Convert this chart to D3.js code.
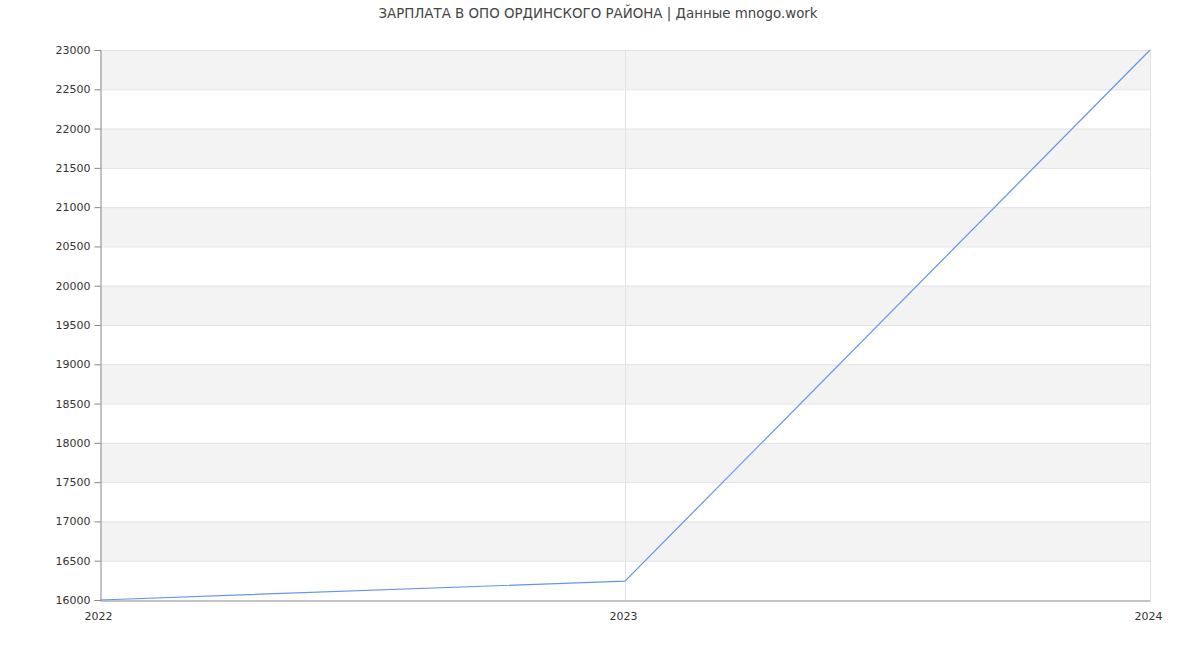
<!DOCTYPE html>
<html><head><meta charset="utf-8">
<script src="https://cdn.jsdelivr.net/npm/d3@7"></script>
<style>body{margin:0;background:#fff;font-family:"DejaVu Sans",sans-serif;}</style>
</head><body><svg id="c" width="1200" height="650"></svg>
<script>
const years = ["2022","2023","2024"];
const salary = [16000, 16240, 23000];
const yTicks = [16000,16500,17000,17500,18000,18500,19000,19500,20000,20500,21000,21500,22000,22500,23000];
const title = "ЗАРПЛАТА В ОПО ОРДИНСКОГО РАЙОНА | Данные mnogo.work";

const svg = d3.select("#c");
const L=100,R=1150,T=50,B=600;
const x = d3.scalePoint().domain(years).range([L,R]);
const y = d3.scaleLinear().domain([16000,23000]).range([B,T]);

svg.append("text").attr("x",598).attr("y",18).attr("text-anchor","middle")
  .attr("font-size",13.4).attr("fill","#444").text(title);

for(let i=0;i<yTicks.length-1;i++){
  if((yTicks.length-2-i)%2===0){
    svg.append("rect").attr("x",L).attr("width",R-L)
      .attr("y",y(yTicks[i+1])).attr("height",y(yTicks[i])-y(yTicks[i+1])).attr("fill","#f3f3f3");
  }
}
svg.append("g").selectAll("line").data(yTicks.slice(1)).join("line")
  .attr("x1",L).attr("x2",R).attr("y1",d=>y(d)+0.5).attr("y2",d=>y(d)+0.5)
  .attr("stroke","#e3e3e3");
svg.append("g").selectAll("line").data(years.slice(1)).join("line")
  .attr("x1",d=>x(d)+0.5).attr("x2",d=>x(d)+0.5).attr("y1",T).attr("y2",B)
  .attr("stroke","#e3e3e3");

const ya = svg.append("g").attr("transform",`translate(${L+0.5},0)`)
  .call(d3.axisLeft(y).tickValues(yTicks).tickSize(6).tickPadding(4).tickFormat(d3.format("d")));
ya.select(".domain").attr("stroke","#888");
ya.selectAll(".tick line").attr("stroke","#888");
ya.selectAll("text").attr("font-size",11).attr("fill","#333").attr("font-family","DejaVu Sans");

const xa = svg.append("g").attr("transform",`translate(0,${B+0.5})`)
  .call(d3.axisBottom(x).tickSize(0).tickPadding(10));
xa.select(".domain").attr("stroke","#888");
xa.selectAll("text").attr("font-size",11).attr("fill","#333").attr("font-family","DejaVu Sans").attr("dx",-2).attr("dy","0.85em");

svg.append("path").datum(salary)
  .attr("d", d3.line().x((d,i)=>x(years[i])).y(d=>y(d)))
  .attr("fill","none").attr("stroke","#6495ed").attr("stroke-width",1.2);
</script></body></html>
